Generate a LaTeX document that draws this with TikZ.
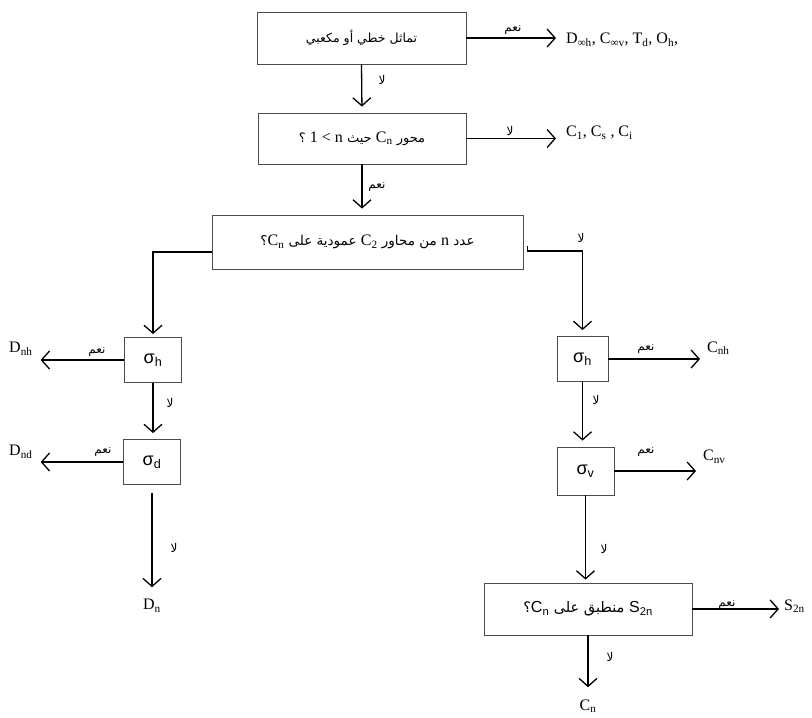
\documentclass[tikz,border=0pt]{standalone}
\usepackage{xcolor}
\usepackage{fontspec}
\setmainfont{Liberation Serif}
\setsansfont{Liberation Sans}
\newfontfamily\arabicfont[Script=Arabic]{DejaVu Sans}
\TeXXeTstate=1
\usetikzlibrary{arrows.meta}

\newcommand\lat[1]{\beginL{\rmfamily\fontsize{16}{18}\selectfont #1}\endL{}}
\newcommand\lats[1]{\beginL{\sffamily\fontsize{16}{18}\selectfont #1}\endL{}}
\newcommand\artxt[1]{{\arabicfont\beginR #1\endR}}

\tikzset{
  qbox/.style={draw=black!70, line width=0.8pt, inner sep=0pt, minimum width=209pt, minimum height=52pt, font=\fontsize{12.5}{14}\selectfont},
  sbox/.style={draw=black!70, line width=0.8pt, inner sep=0pt, minimum width=57pt, minimum height=45pt, font=\sffamily\fontsize{18}{20}\selectfont},
  arr/.style={-{Straight Barb[length=8pt,width=18pt,line width=1.3pt]}, line width=1.3pt, shorten >=6pt},
  res/.style={inner sep=0pt, font=\fontsize{16}{18}\selectfont},
  yn/.style={inner sep=0pt, font=\arabicfont\fontsize{12}{14}\selectfont},
}

\begin{document}
\begin{tikzpicture}[x=1pt,y=-1pt]
\useasboundingbox (0,0) rectangle (812,718);

\node[qbox] (lin) at (361.5,38) {\artxt{تماثل خطي أو مكعبي}};
\node[qbox, minimum width=208pt, minimum height=51pt, font=\fontsize{13}{15}\selectfont] (cn) at (362,138.5) {\artxt{محور \lat{C\textsubscript{n}} حيث \lat{1 < n} ؟}};
\node[qbox, minimum width=311pt, minimum height=54pt, font=\fontsize{13.5}{15}\selectfont] (c2) at (367.5,242) {\artxt{عدد \lat{n} من محاور \lat{C\textsubscript{2}} عمودية على \lat{C\textsubscript{n}}؟}};
\node[qbox, minimum width=208pt, font=\fontsize{14.5}{16}\selectfont] (sb) at (588,609) {\artxt{\lats{S\textsubscript{2n}} منطبق على \lats{C\textsubscript{n}}؟}};

\node[sbox] (dh) at (153,360) {σ\textsubscript{h}};
\node[sbox] (dd) at (152,462) {σ\textsubscript{d}};
\node[sbox, minimum width=51pt] (rh) at (582.5,359) {σ\textsubscript{h}};
\node[sbox, minimum height=48pt] (rv) at (585.5,471) {σ\textsubscript{v}};

\node[res, anchor=west] (r1) at (566,40) {D\textsubscript{∞h}, C\textsubscript{∞v}, T\textsubscript{d}, O\textsubscript{h},};
\node[res, anchor=west] (r2) at (566,133) {C\textsubscript{1}, C\textsubscript{s} , C\textsubscript{i}};
\node[res, anchor=west] (dnh) at (9,349) {D\textsubscript{nh}};
\node[res, anchor=west] (dnd) at (9,452) {D\textsubscript{nd}};
\node[res] (dn) at (152,606) {D\textsubscript{n}};
\node[res, anchor=west] (cnh) at (707,348) {C\textsubscript{nh}};
\node[res, anchor=west] (cnv) at (703,457) {C\textsubscript{nv}};
\node[res, anchor=west] (s2n) at (784,606) {S\textsubscript{2n}};
\node[res] (cnb) at (588,706) {C\textsubscript{n}};

\draw[arr, shorten >=10pt] (lin.east) -- (lin.east -| r1.west);
\draw[arr] (lin.south) -- (cn.north);
\draw[arr, shorten >=10pt] (cn.east) -- (cn.east -| r2.west);
\draw[arr] (cn.south) -- (cn.south |- c2.north);
\draw[arr, shorten >=3pt] ([yshift=-10pt]c2.west) -| (dh.north);
\draw[arr] ([xshift=4pt,yshift=-4pt]c2.east) -- ([xshift=4pt,yshift=-9pt]c2.east) -| (rh.north);

\draw[arr, shorten >=8pt] (dh.west) -- (dh.west -| dnh.east);
\draw[arr] (dh.south) -- (dh.south |- dd.north);
\draw[arr, shorten >=8pt] (dd.west) -- (dd.west -| dnd.east);
\draw[arr, shorten <=8pt, shorten >=12pt] (dd.south) -- (dn.north);

\draw[arr, shorten >=7pt] (rh.east) -- (rh.east -| cnh.west);
\draw[arr] (rh.south) -- (rh.south |- rv.north);
\draw[arr, shorten >=7pt] (rv.east) -- (rv.east -| cnv.west);
\draw[arr, shorten >=3pt] (rv.south) -- (rv.south |- sb.north);
\draw[arr, shorten >=5pt] (sb.east) -- (sb.east -| s2n.west);
\draw[arr, shorten >=12pt] (sb.south) -- (cnb.north);

\node[yn] at (513,30) {\beginR نعم\endR};
\node[yn] at (382,80) {\beginR لا\endR};
\node[yn] at (510,131) {\beginR لا\endR};
\node[yn] at (377,187) {\beginR نعم\endR};
\node[yn] at (581,238) {\beginR لا\endR};
\node[yn] at (97,352) {\beginR نعم\endR};
\node[yn] at (170,403) {\beginR لا\endR};
\node[yn] at (103,452) {\beginR نعم\endR};
\node[yn] at (174,548) {\beginR لا\endR};
\node[yn] at (646,349) {\beginR نعم\endR};
\node[yn] at (596,400) {\beginR لا\endR};
\node[yn] at (646,452) {\beginR نعم\endR};
\node[yn] at (604,549) {\beginR لا\endR};
\node[yn] at (727,605) {\beginR نعم\endR};
\node[yn] at (610,657) {\beginR لا\endR};
\end{tikzpicture}
\end{document}
